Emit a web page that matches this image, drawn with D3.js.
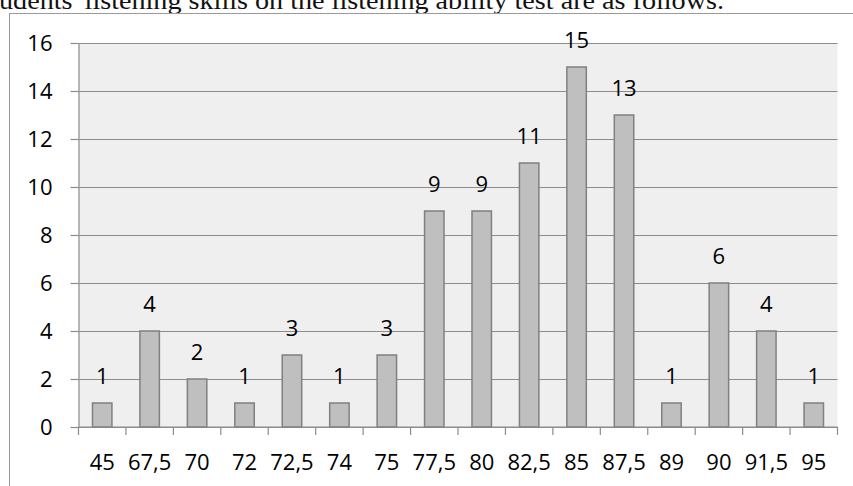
<!DOCTYPE html>
<html>
<head>
<meta charset="utf-8">
<script src="https://cdn.jsdelivr.net/npm/d3@7"></script>
<style>
  body { margin: 0; background: #fff; }
  svg { display: block; }
</style>
</head>
<body>
<div id="chart-container"></div>
<script>
const W = 853, H = 486;
const plot = {left: 78.5, right: 837.5, top: 43, bottom: 427};

// chart data
const scores = ["45", "67,5", "70", "72", "72,5", "74", "75", "77,5", "80", "82,5", "85", "87,5", "89", "90", "91,5", "95"];
const counts = [1, 4, 2, 1, 3, 1, 3, 9, 9, 11, 15, 13, 1, 6, 4, 1];
const yTicks = [0, 2, 4, 6, 8, 10, 12, 14, 16];

const captionText = "udents' listening skills on the listening ability test are as follows.";

const labelFont = "'Open Sans', 'Noto Sans', sans-serif";

var svg = d3.select("#chart-container")
    .append("svg")
    .attr("width", W)
    .attr("height", H);

// caption line cut off at the top of the picture
svg.append("text")
    .attr("x", -1)
    .attr("y", 8.5)
    .attr("textLength", 725)
    .attr("lengthAdjust", "spacingAndGlyphs")
    .style("font-family", "'Liberation Serif', 'DejaVu Serif', serif")
    .style("font-size", "25px")
    .attr("fill", "#111")
    .text(captionText);

// outer chart frame (runs off the right and bottom of the picture)
svg.append("rect")
    .attr("x", 9.5)
    .attr("y", 13.5)
    .attr("width", W + 20)
    .attr("height", H + 20)
    .attr("fill", "none")
    .attr("stroke", "#9a9a9a")
    .attr("stroke-width", 1);

// scales
var xScale = d3.scaleBand()
    .domain(scores)
    .range([plot.left, plot.right])
    .paddingInner(0.59)
    .paddingOuter(0.295);

var yScale = d3.scaleLinear()
    .domain([0, 16])
    .range([plot.bottom, plot.top]);

// plot background
svg.append("rect")
    .attr("x", plot.left)
    .attr("y", plot.top)
    .attr("width", plot.right - plot.left)
    .attr("height", plot.bottom - plot.top)
    .attr("fill", "#efefef");

// horizontal gridlines
svg.append("g")
    .attr("class", "grid")
    .attr("transform", `translate(${plot.left}, 0)`)
    .call(d3.axisLeft(yScale)
        .tickValues(yTicks)
        .tickSize(-(plot.right - plot.left))
        .tickFormat(""))
    .call(g => g.select(".domain").remove())
    .selectAll(".tick line")
    .attr("stroke", "#8c8c8c")
    .attr("stroke-width", 1.2);

// y axis with tick labels
var yAxis = svg.append("g")
    .attr("transform", `translate(${plot.left}, 0)`)
    .call(d3.axisLeft(yScale)
        .tickValues(yTicks)
        .tickSize(8)
        .tickPadding(18)
        .tickSizeOuter(0));
yAxis.select(".domain").attr("stroke", "#8c8c8c").attr("stroke-width", 1.2);
yAxis.selectAll(".tick line").attr("stroke", "#8c8c8c").attr("stroke-width", 1.2);
yAxis.selectAll(".tick text")
    .style("font-family", labelFont)
    .style("font-size", "22px")
    .attr("fill", "#000");

// bars
svg.append("g")
    .selectAll("rect")
    .data(counts)
    .join("rect")
    .attr("x", (d, i) => xScale(scores[i]))
    .attr("y", d => yScale(d))
    .attr("width", xScale.bandwidth())
    .attr("height", d => yScale(0) - yScale(d))
    .attr("fill", "#bfbfbf")
    .attr("stroke", "#808080")
    .attr("stroke-width", 1.5);

// value labels
svg.append("g")
    .selectAll("text")
    .data(counts)
    .join("text")
    .attr("x", (d, i) => xScale(scores[i]) + xScale.bandwidth() / 2)
    .attr("y", d => yScale(d) - 19)
    .attr("text-anchor", "middle")
    .style("font-family", labelFont)
    .style("font-size", "22px")
    .attr("fill", "#000")
    .text(d => d);

// x axis line, boundary ticks and category labels
svg.append("line")
    .attr("x1", plot.left).attr("x2", plot.right)
    .attr("y1", plot.bottom).attr("y2", plot.bottom)
    .attr("stroke", "#8c8c8c")
    .attr("stroke-width", 1.2);

svg.append("g")
    .selectAll("line")
    .data(d3.range(scores.length + 1))
    .join("line")
    .attr("x1", i => plot.left + i * xScale.step())
    .attr("x2", i => plot.left + i * xScale.step())
    .attr("y1", plot.bottom)
    .attr("y2", plot.bottom + 8)
    .attr("stroke", "#8c8c8c")
    .attr("stroke-width", 1.2);

svg.append("g")
    .selectAll("text")
    .data(scores)
    .join("text")
    .attr("x", d => xScale(d) + xScale.bandwidth() / 2)
    .attr("y", 470)
    .attr("text-anchor", "middle")
    .style("font-family", labelFont)
    .style("font-size", "22px")
    .attr("fill", "#000")
    .text(d => d);
</script>
</body>
</html>
